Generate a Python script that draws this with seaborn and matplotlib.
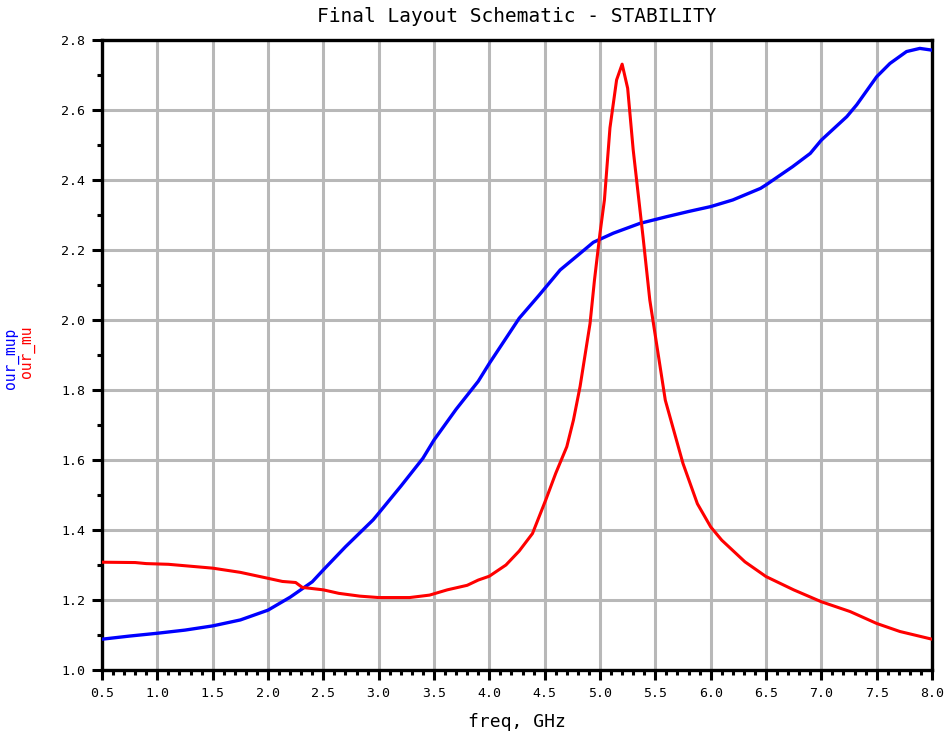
import numpy as np
import pandas as pd
import matplotlib
matplotlib.use("Agg")
import matplotlib.pyplot as plt
from matplotlib.ticker import MultipleLocator, FormatStrFormatter
import seaborn as sns

# ---- data ----
freq_mup = [0.5, 0.75, 1.0, 1.25, 1.5, 1.75, 2.0, 2.2, 2.4, 2.5, 2.7, 2.95, 3.0,
            3.2, 3.4, 3.5, 3.7, 3.9, 4.0, 4.27, 4.45, 4.64, 4.8, 4.94, 5.12,
            5.36, 5.6, 5.8, 6.0, 6.2, 6.45, 6.5, 6.74, 6.9, 7.0, 7.23, 7.32,
            7.5, 7.62, 7.77, 7.89, 8.0]
our_mup = [1.088, 1.097, 1.105, 1.114, 1.126, 1.143, 1.171, 1.208, 1.252, 1.286,
           1.352, 1.429, 1.448, 1.525, 1.605, 1.657, 1.745, 1.825, 1.876, 2.005,
           2.071, 2.143, 2.185, 2.222, 2.248, 2.276, 2.295, 2.310, 2.324, 2.343,
           2.376, 2.386, 2.438, 2.476, 2.514, 2.581, 2.615, 2.695, 2.733, 2.767,
           2.776, 2.771]

freq_mu = [0.5, 0.8, 0.9, 1.1, 1.5, 1.75, 2.0, 2.13, 2.25, 2.31, 2.5, 2.64, 2.83,
           3.0, 3.28, 3.46, 3.62, 3.8, 3.9, 4.0, 4.15, 4.27, 4.39, 4.51, 4.6,
           4.7, 4.76, 4.82, 4.91, 4.95, 5.0, 5.04, 5.09, 5.15, 5.2, 5.25, 5.3,
           5.39, 5.45, 5.59, 5.75, 5.88, 6.0, 6.1, 6.31, 6.5, 6.75, 7.0, 7.26,
           7.5, 7.71, 8.0]
our_mu = [1.308, 1.307, 1.304, 1.302, 1.291, 1.279, 1.262, 1.253, 1.250, 1.236,
          1.229, 1.219, 1.211, 1.207, 1.207, 1.214, 1.229, 1.242, 1.257, 1.268,
          1.300, 1.340, 1.390, 1.486, 1.562, 1.638, 1.714, 1.810, 1.990, 2.114,
          2.248, 2.343, 2.549, 2.686, 2.731, 2.662, 2.486, 2.234, 2.057, 1.771,
          1.590, 1.475, 1.409, 1.371, 1.309, 1.267, 1.229, 1.195, 1.167, 1.133,
          1.110, 1.088]

title = "Final Layout Schematic - STABILITY"
xlabel = "freq, GHz"
label_mup = "our_mup"
label_mu = "our_mu"

# ---- figure ----
sns.set_style("white")
plt.rcParams['font.family'] = ['DejaVu Sans Mono', 'DejaVu Sans']
plt.rcParams['text.color'] = 'black'
plt.rcParams['xtick.color'] = 'black'
plt.rcParams['ytick.color'] = 'black'

W, H = 952, 739
fig = plt.figure(figsize=(W / 100, H / 100), dpi=100)
L, R, T, B = 102, 932, 40, 670
ax = fig.add_axes([L / W, 1 - B / H, (R - L) / W, (B - T) / H])

df_mup = pd.DataFrame({"freq": freq_mup, "val": our_mup})
df_mu = pd.DataFrame({"freq": freq_mu, "val": our_mu})
sns.lineplot(data=df_mup, x="freq", y="val", ax=ax, color="#0000ff", lw=2.4,
             sort=False, zorder=3)
sns.lineplot(data=df_mu, x="freq", y="val", ax=ax, color="#ff0000", lw=2.2,
             sort=False, zorder=4)

ax.set_xlim(0.5, 8.0)
ax.set_ylim(1.0, 2.8)
ax.xaxis.set_major_locator(MultipleLocator(0.5))
ax.xaxis.set_minor_locator(MultipleLocator(0.1))
ax.yaxis.set_major_locator(MultipleLocator(0.2))
ax.yaxis.set_minor_locator(MultipleLocator(0.1))
ax.xaxis.set_major_formatter(FormatStrFormatter('%.1f'))
ax.yaxis.set_major_formatter(FormatStrFormatter('%.1f'))

ax.grid(True, which='major', color='#b8b8b8', lw=2.2, zorder=0)
ax.set_axisbelow(True)
for s in ax.spines.values():
    s.set_visible(True)
    s.set_color('black')
    s.set_linewidth(2.4)

ax.tick_params(axis='both', which='major', direction='out', length=7, width=2.2,
               color='black', labelsize=9.5, labelcolor='black', pad=5)
ax.tick_params(axis='both', which='minor', direction='out', length=3.5, width=2.2,
               color='black')
ax.tick_params(axis='x', which='both', top=False, bottom=True)
ax.tick_params(axis='y', which='both', right=False, left=True)

ax.set_xlabel("")
ax.set_ylabel("")
fig.text((L + R) / 2 / W, 1 - 722 / H, xlabel, ha='center', va='center',
         fontsize=13, color='black')
fig.text((L + R) / 2 / W, 1 - 16 / H, title, ha='center', va='center',
         fontsize=14, color='black')
fig.text(12 / W, 1 - 358 / H, label_mup, rotation=90, ha='center', va='center',
         fontsize=10.5, color='#0000ff')
fig.text(28 / W, 1 - 352 / H, label_mu, rotation=90, ha='center', va='center',
         fontsize=10.5, color='#ff0000')

fig.savefig("out.png", dpi=100, facecolor='white')
